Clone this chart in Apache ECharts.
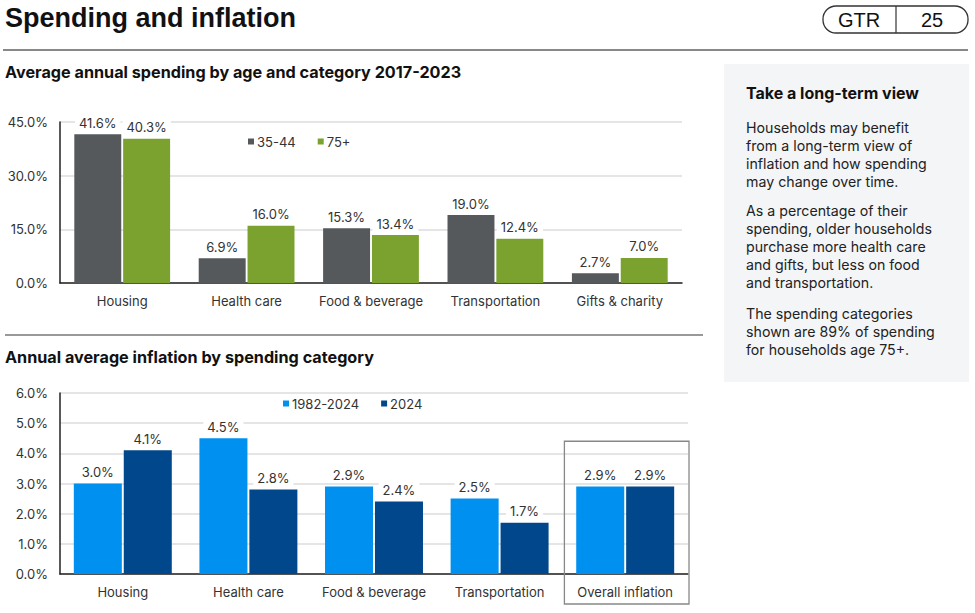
<!DOCTYPE html>
<html><head><meta charset="utf-8">
<script src="https://cdn.jsdelivr.net/npm/echarts@6/dist/echarts.min.js"></script>
<style>html,body{margin:0;padding:0;background:#fff}#c{width:975px;height:613px}</style>
</head><body><div id="c"></div>
<script>
// Chart 1 data
const spendCategories = ['Housing','Health care','Food & beverage','Transportation','Gifts & charity'];
const spendAge3544 = [41.6, 6.9, 15.3, 19.0, 2.7];
const spendAge75 = [40.3, 16.0, 13.4, 12.4, 7.0];
const spendTicks = {min:0, max:45, interval:15};
// Chart 2 data
const inflCategories = ['Housing','Health care','Food & beverage','Transportation','Overall inflation'];
const infl19822024 = [3.0, 4.5, 2.9, 2.5, 2.9];
const infl2024 = [4.1, 2.8, 2.4, 1.7, 2.9];
const inflTicks = {min:0, max:6, interval:1};

const F = 'Inter, "Noto Sans", sans-serif';
const TXT = '#333';
const chart = echarts.init(document.getElementById('c'), null, {renderer:'svg'});

function valLabel(){
  return {show:true, position:'top', distance:4, formatter:p=>p.value.toFixed(1)+'%',
    color:TXT, fontFamily:F, fontSize:13, backgroundColor:'#fff', padding:[1,4]};
}
function yAx(t, gi){
  return {type:'value', gridIndex:gi, min:t.min, max:t.max, interval:t.interval,
    axisLine:{show:true, lineStyle:{color:'#222', width:1.5}}, axisTick:{show:false},
    splitLine:{lineStyle:{color:'#dcdcdc', width:1.5}},
    axisLabel:{formatter:v=>v.toFixed(1)+'%', color:TXT, fontFamily:F, fontSize:13, margin:12}};
}
function xAx(cats, gi){
  return {type:'category', gridIndex:gi, data:cats, axisTick:{show:false},
    axisLine:{lineStyle:{color:'#222', width:1.5}},
    axisLabel:{interval:0, color:TXT, fontFamily:F, fontSize:13, margin:11}};
}
const legendCommon = {icon:'rect', itemWidth:6, itemHeight:6, itemGap:22, orient:'horizontal',
  textStyle:{color:TXT, fontFamily:F, fontSize:13, padding:[0,0,0,-2]}};

const bodyLines = [
  ['Households may benefit','from a long-term view of','inflation and how spending','may change over time.'],
  ['As a percentage of their','spending, older households','purchase more health care','and gifts, but less on food','and transportation.'],
  ['The spending categories','shown are 89% of spending','for households age 75+.']
];
const paraStart = [127, 210, 313];
const graphics = [
  {type:'text', left:5, top:4, style:{text:'Spending and inflation', font:'bold 27px "Liberation Sans", Arial, sans-serif', fill:'#111'}},
  {type:'line', shape:{x1:3,y1:50,x2:968,y2:50}, style:{stroke:'#888', lineWidth:2}},
  {type:'rect', shape:{x:823,y:6,width:145,height:27,r:13}, style:{fill:'#fff', stroke:'#333', lineWidth:1.3}},
  {type:'line', shape:{x1:896,y1:6,x2:896,y2:33}, style:{stroke:'#333', lineWidth:1.2}},
  {type:'text', x:859, y:20, style:{text:'GTR', font:'20px "Liberation Sans", Arial, sans-serif', fill:'#111', align:'center', verticalAlign:'middle'}},
  {type:'text', x:932, y:20, style:{text:'25', font:'20px "Liberation Sans", Arial, sans-serif', fill:'#111', align:'center', verticalAlign:'middle'}},
  {type:'text', x:5, y:72, style:{text:'Average annual spending by age and category 2017-2023', font:'bold 16.2px '+F, fill:'#111', verticalAlign:'middle'}},
  {type:'line', shape:{x1:5,y1:335,x2:703,y2:335}, style:{stroke:'#777', lineWidth:1.5}},
  {type:'text', x:5, y:357, style:{text:'Annual average inflation by spending category', font:'bold 16.2px '+F, fill:'#111', verticalAlign:'middle'}},
  {type:'rect', shape:{x:724,y:64,width:245,height:318}, style:{fill:'#f4f5f7'}},
  {type:'text', x:746, y:93, style:{text:'Take a long-term view', font:'bold 16px '+F, fill:'#111', verticalAlign:'middle'}}
];
bodyLines.forEach((p,i)=>p.forEach((ln,j)=>graphics.push(
  {type:'text', x:746, y:paraStart[i]+j*18, style:{text:ln, font:'14.2px '+F, fill:'#222', verticalAlign:'middle'}})));

chart.setOption({
  animation:false,
  grid:[{left:60, right:293, top:122, height:161},{left:60, right:287, top:393, height:181}],
  xAxis:[xAx(spendCategories,0), xAx(inflCategories,1)],
  yAxis:[yAx(spendTicks,0), yAx(inflTicks,1)],
  legend:[
    Object.assign({data:['35-44','75+'], left:243, top:130}, legendCommon),
    Object.assign({data:['1982-2024','2024'], left:278, top:392}, legendCommon)
  ],
  series:[
    {name:'35-44', type:'bar', xAxisIndex:0, yAxisIndex:0, data:spendAge3544, itemStyle:{color:'#55595c'}, barGap:'4%', barCategoryGap:'23%', label:valLabel()},
    {name:'75+', type:'bar', xAxisIndex:0, yAxisIndex:0, data:spendAge75, itemStyle:{color:'#7ba22f'}, label:valLabel()},
    {name:'1982-2024', type:'bar', xAxisIndex:1, yAxisIndex:1, data:infl19822024, itemStyle:{color:'#0091f0'}, barGap:'4%', barCategoryGap:'22%', label:valLabel()},
    {name:'2024', type:'bar', xAxisIndex:1, yAxisIndex:1, data:infl2024, itemStyle:{color:'#00478b'}, label:valLabel()}
  ],
  graphic:graphics
});
// highlight box around "Overall inflation"
const last = inflCategories.length-1;
const pA = chart.convertToPixel({gridIndex:1}, [last, 0]);
const pB = chart.convertToPixel({gridIndex:1}, [last-1, 0]);
const cw = pA[0]-pB[0];
const boxTop = chart.convertToPixel({yAxisIndex:1}, 4.4);
graphics.push({type:'rect', shape:{x:pA[0]-cw/2+2, y:boxTop, width:cw-1, height:pA[1]+30-boxTop},
  style:{fill:'none', stroke:'#888', lineWidth:1.3}, z:100});
chart.setOption({graphic:graphics});
</script></body></html>
